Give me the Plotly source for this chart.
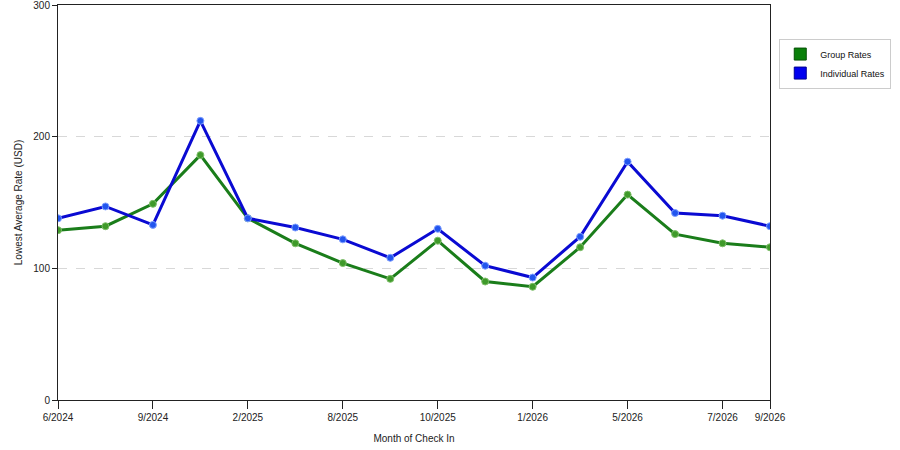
import plotly.graph_objects as go

# month index along the x axis, labelled every other point
months = list(range(16))
tick_pos = [0, 2, 4, 6, 8, 10, 12, 14, 15]
tick_labels = ["6/2024", "9/2024", "2/2025", "8/2025", "10/2025",
               "1/2026", "5/2026", "7/2026", "9/2026"]

group_rates = [129, 132, 149, 186, 138, 119, 104, 92, 121, 90, 86, 116, 156, 126, 119, 116]
individual_rates = [138, 147, 133, 212, 138, 131, 122, 108, 130, 102, 93, 124, 181, 142, 140, 132]

font = dict(family="Liberation Sans, Arial, sans-serif", size=10, color="#222222")

fig = go.Figure()

fig.add_trace(go.Scatter(
    x=months, y=group_rates, mode="lines+markers", showlegend=False,
    line=dict(color="#1a7d1a", width=3),
    marker=dict(size=7, color="#3f9a2a", line=dict(color="#7fbf6a", width=1)),
))
fig.add_trace(go.Scatter(
    x=months, y=individual_rates, mode="lines+markers", showlegend=False,
    line=dict(color="#0a0ad2", width=3),
    marker=dict(size=7, color="#2255ee", line=dict(color="#7f9fff", width=1)),
))

# square swatches for the legend
fig.add_trace(go.Scatter(
    x=[None], y=[None], mode="markers", name="Group Rates",
    marker=dict(symbol="square", size=12, color="#0a800a", line=dict(color="#055005", width=1)),
))
fig.add_trace(go.Scatter(
    x=[None], y=[None], mode="markers", name="Individual Rates",
    marker=dict(symbol="square", size=12, color="#0000f0", line=dict(color="#000090", width=1)),
))

fig.update_layout(
    width=900, height=450,
    margin=dict(l=58, r=130, t=5, b=50, autoexpand=False),
    paper_bgcolor="white", plot_bgcolor="white",
    font=font,
    legend=dict(
        x=1.013, y=0.915, xanchor="left", yanchor="top",
        bordercolor="#cccccc", borderwidth=1,
        font=dict(family="Liberation Sans, Arial, sans-serif", size=9, color="#111111"),
        itemwidth=30, tracegroupgap=4,
    ),
    xaxis=dict(
        range=[0, 15], tickmode="array", tickvals=tick_pos, ticktext=tick_labels,
        ticks="outside", ticklen=8, tickcolor="#222222",
        showline=True, linecolor="#222222", linewidth=1, mirror=True,
        showgrid=False, zeroline=False, automargin=False,
        ticklabeloverflow="allow",
        title=dict(text="Month of Check In", standoff=12, font=font),
    ),
    yaxis=dict(
        range=[0, 300], tickvals=[0, 100, 200, 300],
        ticks="outside", ticklen=5, tickcolor="#222222",
        showline=True, linecolor="#222222", linewidth=1, mirror=True,
        showgrid=True, gridcolor="#d8d8d8", griddash="dash", zeroline=False,
        automargin=False, ticklabeloverflow="allow",
        title=dict(text="Lowest Average Rate (USD)", standoff=8, font=font),
    ),
)

# drop the page's default body margin so the figure sits at the window corner
fig.write_html("out.html", config={"displayModeBar": False},
               post_script="document.body.style.margin='0';")
